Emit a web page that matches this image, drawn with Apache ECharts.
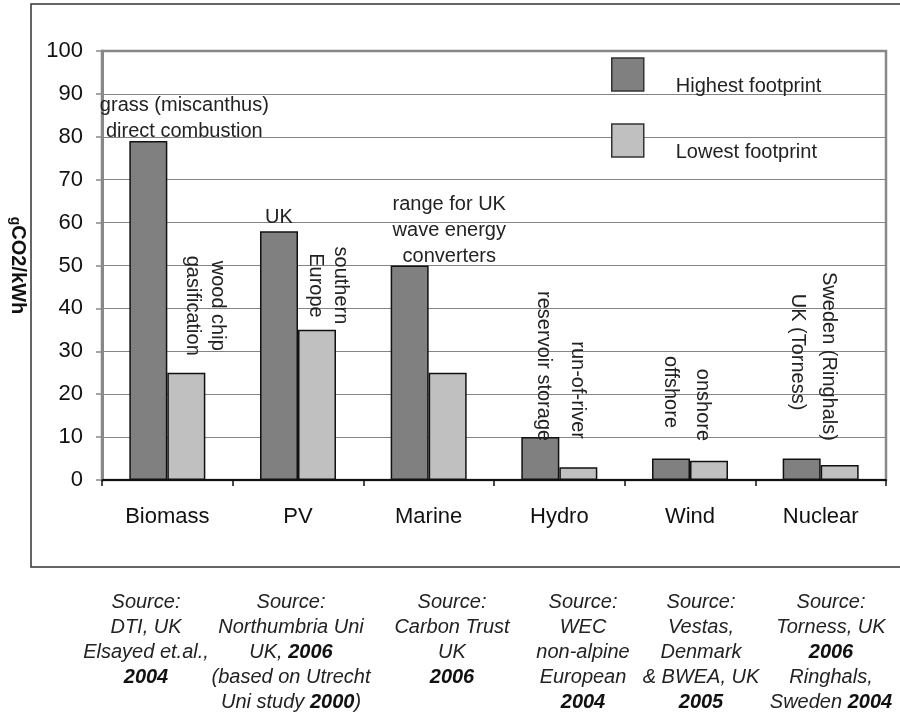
<!DOCTYPE html>
<html>
<head>
<meta charset="utf-8">
<script src="https://cdn.jsdelivr.net/npm/echarts@6/dist/echarts.min.js"></script>
<style>
  html, body { margin: 0; padding: 0; background: #ffffff; }
  #chart { width: 900px; height: 718px; }
</style>
</head>
<body>
<div id="chart"></div>
<script>
// ---- data ----
const categories = ['Biomass', 'PV', 'Marine', 'Hydro', 'Wind', 'Nuclear'];
const seriesNames = ['Highest footprint', 'Lowest footprint'];
const highValues = [79, 58, 50, 10, 5, 5];
const lowValues = [25, 35, 25, 3, 4.5, 3.5];
const highNotes = ['grass (miscanthus)\ndirect combustion', 'UK', 'range for UK\nwave energy\nconverters', 'reservoir storage', 'offshore', 'UK (Torness)'];
const lowNotes = ['wood chip\ngasification', 'southern\nEurope', '', 'run-of-river', 'onshore', 'Sweden (Ringhals)'];
const yMin = 0, yMax = 100, yStep = 10;
const yAxisName = ['g', 'CO2/kWh'];
const sourceNotes = [
  ['Source:', 'DTI, UK', 'Elsayed et.al.,', '{b|2004}'],
  ['Source:', 'Northumbria Uni', 'UK, {b|2006}', '(based on Utrecht', 'Uni study {b|2000})'],
  ['Source:', 'Carbon Trust', 'UK', '{b|2006}'],
  ['Source:', 'WEC', 'non-alpine', 'European', '{b|2004}'],
  ['Source:', 'Vestas,', 'Denmark', '& BWEA, UK', '{b|2005}'],
  ['Source:', 'Torness, UK', '{b|2006}', 'Ringhals,', 'Sweden {b|2004}']
];

// ---- layout (label placement relative to each bar's top-left corner) ----
const highNoteLayout = [[55, -23, 0], [19, -14, 0], [58.6, -35, 0], [22, -71, -90], [18.3, -66.5, -90], [14.6, -106.5, -90]];
const lowNoteLayout = [[37.5, -67, -90], [29.8, -44.4, -90], [0, 0, 0], [18, -77, -90], [12.3, -55.7, -90], [7.6, -108.5, -90]];
const sourceX = [146, 291, 452, 583, 701, 831];

const FONT = '"Liberation Sans", Arial, sans-serif';

function buildData(values, notes, layout) {
  return values.map((v, i) => ({
    value: v,
    label: {
      show: notes[i] !== '',
      formatter: notes[i],
      position: [layout[i][0], layout[i][1]],
      rotate: layout[i][2],
      align: 'center',
      verticalAlign: 'middle',
      fontSize: 20,
      lineHeight: layout[i][2] === 0 ? 26 : 25,
      color: '#222',
      fontFamily: FONT
    }
  }));
}

const chart = echarts.init(document.getElementById('chart'), null, { renderer: 'canvas' });

const graphics = [{
  type: 'rect',
  shape: { x: 31, y: 4, width: 900, height: 563 },
  style: { fill: 'none', stroke: '#333', lineWidth: 1.5 },
  silent: true,
  z: -10
}];
sourceNotes.forEach((lines, i) => {
  graphics.push({
    type: 'text',
    x: sourceX[i],
    y: 589.5,
    style: {
      text: lines.join('\n'),
      align: 'center',
      verticalAlign: 'top',
      fontSize: 20,
      fontStyle: 'italic',
      fontFamily: FONT,
      lineHeight: 25,
      fill: '#222',
      rich: {
        b: { fontSize: 20, fontStyle: 'italic', fontWeight: 'bold', fontFamily: FONT, lineHeight: 25, fill: '#111' }
      }
    }
  });
});

const option = {
  backgroundColor: '#ffffff',
  animation: false,
  textStyle: { fontFamily: FONT },
  grid: {
    left: 102, right: 14, top: 51, bottom: 238,
    show: true, borderColor: '#888', borderWidth: 2.5, backgroundColor: 'transparent'
  },
  legend: {
    orient: 'vertical',
    left: 611, top: 50.5,
    padding: 0,
    itemWidth: 32, itemHeight: 33, itemGap: 18,
    icon: 'rect',
    data: seriesNames,
    formatter: name => '\n' + name,
    itemStyle: { borderColor: '#333', borderWidth: 1.5 },
    textStyle: { fontSize: 20, lineHeight: 24, color: '#222', fontFamily: FONT, padding: [0, 0, 0, 27] }
  },
  xAxis: {
    type: 'category',
    data: categories,
    axisLine: { show: true, lineStyle: { color: '#111', width: 2 } },
    axisTick: { show: true, length: 6, interval: 0, lineStyle: { color: '#111', width: 1.5 } },
    axisLabel: { fontSize: 22, color: '#111', margin: 26, fontFamily: FONT },
    splitLine: { show: false }
  },
  yAxis: {
    type: 'value',
    min: yMin, max: yMax, interval: yStep,
    name: '{g|' + yAxisName[0] + '}{c|' + yAxisName[1] + '}',
    nameLocation: 'middle',
    nameRotate: -90,
    nameGap: 74,
    nameTextStyle: {
      rich: {
        g: { fontSize: 14, fontWeight: 'bold', color: '#111', fontFamily: FONT, verticalAlign: 'bottom' },
        c: { fontSize: 20, fontWeight: 'bold', color: '#111', fontFamily: FONT }
      }
    },
    axisLine: { show: true, lineStyle: { color: '#888', width: 3 } },
    axisTick: { show: true, length: 6, lineStyle: { color: '#888', width: 1.5 } },
    axisLabel: { fontSize: 22, color: '#111', margin: 19, fontFamily: FONT },
    splitLine: { show: true, lineStyle: { color: '#858585', width: 1.2 } }
  },
  series: [
    {
      name: seriesNames[0],
      type: 'bar',
      barWidth: 38,
      barGap: '0%',
      itemStyle: { color: '#808080', borderColor: '#111', borderWidth: 1.5 },
      data: buildData(highValues, highNotes, highNoteLayout)
    },
    {
      name: seriesNames[1],
      type: 'bar',
      barWidth: 38,
      barGap: '0%',
      itemStyle: { color: '#c0c0c0', borderColor: '#111', borderWidth: 1.5 },
      data: buildData(lowValues, lowNotes, lowNoteLayout)
    }
  ],
  graphic: graphics
};

chart.setOption(option);
</script>
</body>
</html>
